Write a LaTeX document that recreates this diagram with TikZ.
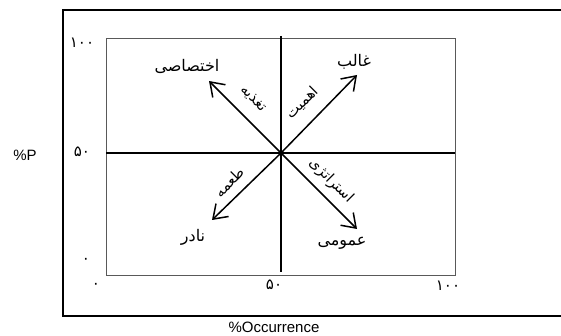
\documentclass[tikz,border=0pt]{standalone}
\usepackage{fontspec}
\setmainfont{Liberation Sans}
\newfontfamily\fa[Script=Arabic]{DejaVu Sans}
\TeXXeTstate=1
\usetikzlibrary{arrows.meta}
\begin{document}
\begin{tikzpicture}[x=1pt,y=-1pt,
  frame/.style={line width=1.2pt},
  boxline/.style={draw=black!65,line width=1pt},
  axisline/.style={line width=1.8pt},
  arr/.style={line width=1.5pt,-{Straight Barb[length=13pt,width=18pt]}},
  lbl/.style={font=\fa\fontsize{16}{18}\selectfont,inner sep=0pt},
  rlbl/.style={font=\fa\fontsize{14.5}{16}\selectfont,inner sep=0pt},
  tick/.style={font=\fa\fontsize{15}{17}\selectfont,inner sep=0pt},
  axlbl/.style={font=\fontsize{15}{17}\selectfont,inner sep=0pt}]
\useasboundingbox (0,0) rectangle (561,336);
% outer frame (open on the right)
\coordinate (ftr) at (561,10);
\coordinate (ftl) at (63,10);
\coordinate (fbl) at (63,316);
\coordinate (fbr) at (561,316);
\draw[frame] (ftr) -- (ftl) -- (fbl) -- (fbr);
% inner box
\coordinate (btl) at (106,39);
\coordinate (bbr) at (455,275);
\draw[boxline] (btl) rectangle (bbr);
% axes
\coordinate (o) at (281,153);
\coordinate (xl) at (106,153);
\coordinate (xr) at (455,153);
\coordinate (yt) at (281,36);
\coordinate (yb) at (281,272);
\draw[axisline] (xl) -- (xr);
\draw[axisline] (yt) -- (yb);
% arrows
\coordinate (nw) at (209,81);
\coordinate (ne) at (357,75);
\coordinate (sw) at (212,220);
\coordinate (se) at (357,229);
\draw[arr] (o) -- (nw);
\draw[arr] (o) -- (ne);
\draw[arr] (o) -- (sw);
\draw[arr] (o) -- (se);
% end labels
\node[lbl] (lnw) at (187,66) {\beginR اختصاصی\endR};
\node[lbl] (lne) at (354,62) {\beginR غالب\endR};
\node[lbl] (lsw) at (193,237) {\beginR نادر\endR};
\node[lbl] (lse) at (342,243) {\beginR عمومی\endR};
% arrow labels
\node[rlbl,rotate=-45] (anw) at (253,99) {\beginR تغذیه\endR};
\node[rlbl,rotate=45] (ane) at (302,103) {\beginR اهمیت\endR};
\node[rlbl,rotate=45] (asw) at (229,182) {\beginR طعمه\endR};
\node[rlbl,rotate=-45] (ase) at (331,181) {\beginR استراتژی\endR};
% ticks
\node[tick] (y100) at (82,43) {۱۰۰};
\node[tick] (y50) at (82,152) {۵۰};
\node[tick] (y0) at (86,261) {۰};
\node[tick] (x0) at (96,286) {۰};
\node[tick] (x50) at (274,285) {۵۰};
\node[tick] (x100) at (448,286) {۱۰۰};
% axis titles
\node[axlbl] (py) at (25,155) {\%P};
\node[axlbl] (px) at (274,327) {\%Occurrence};
\end{tikzpicture}
\end{document}
